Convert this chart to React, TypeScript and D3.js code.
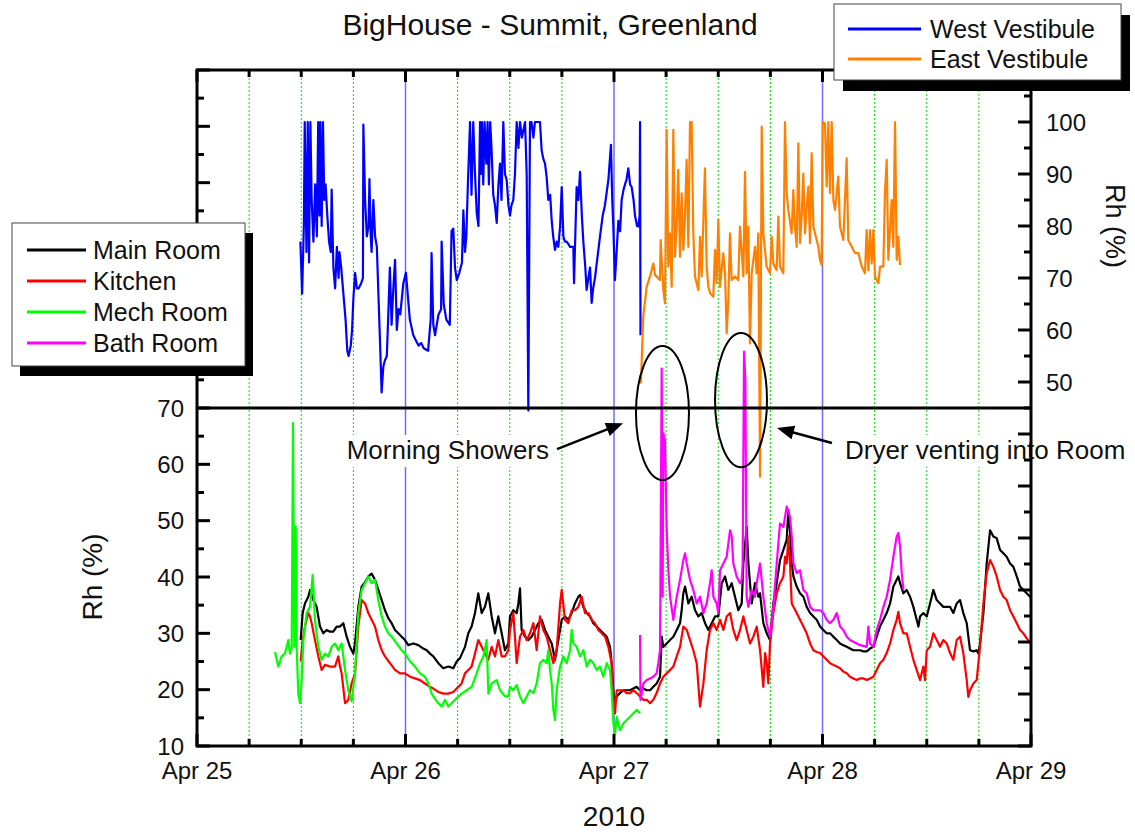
import { line, range, scaleLinear } from "d3";

type Pt = [number, number]; // [hours since Apr 25 00:00, Rh %]

const title = "BigHouse - Summit, Greenland";
const dayLabels = ["Apr 25", "Apr 26", "Apr 27", "Apr 28", "Apr 29"];
const yearLabel = "2010";
const lowerLabels = [10, 20, 30, 40, 50, 60, 70];
const upperLabels = [50, 60, 70, 80, 90, 100];

const westVestibule: Pt[] = [
  [11.9, 77], [12.1, 67], [12.3, 80], [12.4, 100], [12.6, 75], [12.75, 100], [12.9, 73], [13.05, 100],
  [13.2, 85], [13.4, 77], [13.6, 88], [13.8, 78], [13.95, 100], [14.1, 82], [14.2, 100], [14.35, 80],
  [14.5, 100], [14.65, 85], [14.8, 88], [15.0, 82], [15.2, 77], [15.4, 75], [15.5, 87], [15.7, 72],
  [15.9, 68], [16.1, 76], [16.3, 70], [16.4, 75], [16.6, 72], [16.85, 67], [17.1, 62], [17.3, 56],
  [17.45, 55], [17.7, 57], [17.85, 60], [18.0, 66], [18.2, 71], [18.4, 68], [18.6, 68], [18.9, 69],
  [19.1, 70], [19.15, 99.5], [19.35, 85], [19.55, 78], [19.75, 80], [19.85, 89], [20.0, 78], [20.1, 75],
  [20.3, 85], [20.5, 78], [20.7, 76], [20.9, 66], [21.1, 56], [21.25, 48], [21.45, 53], [21.6, 54],
  [21.85, 55], [22.0, 62], [22.2, 72], [22.4, 61], [22.6, 68], [22.8, 73.5], [23.0, 60], [23.2, 64],
  [23.4, 63], [23.75, 69], [24.05, 71], [24.3, 66], [24.5, 62], [24.9, 59], [25.2, 58], [25.5, 57],
  [25.8, 57.5], [26.1, 56.5], [26.6, 56], [26.9, 62], [27.0, 74.8], [27.2, 61], [27.4, 59], [27.8, 63],
  [28.1, 64], [28.16, 77], [28.4, 65], [28.7, 62], [29.1, 61], [29.3, 79], [29.5, 79.5], [29.7, 72],
  [29.9, 69.6], [30.2, 71], [30.5, 73], [30.66, 83], [30.85, 75], [31.0, 78], [31.2, 89], [31.43, 100],
  [31.6, 86], [31.8, 100], [32.0, 90], [32.2, 82.5], [32.4, 80], [32.58, 100], [32.7, 90], [32.8, 100],
  [32.95, 88], [33.1, 100], [33.3, 92], [33.45, 100], [33.6, 88], [33.75, 100], [33.9, 95], [34.1, 86],
  [34.3, 84], [34.5, 80.6], [34.7, 88], [34.88, 92], [35.05, 85], [35.26, 100], [35.45, 90], [35.65, 88.8],
  [35.85, 84], [36.03, 82], [36.2, 84], [36.41, 85], [36.6, 90], [36.8, 100], [37.0, 95], [37.18, 100],
  [37.4, 97], [37.76, 100], [37.95, 90], [38.14, 44.5], [38.33, 100], [38.5, 100], [38.72, 97], [38.9, 100],
  [39.1, 100], [39.3, 100], [39.48, 100], [39.67, 94.6], [39.85, 93], [40.06, 92], [40.25, 89.4], [40.44, 85],
  [40.65, 86], [40.83, 81], [41.0, 78], [41.21, 75.4], [41.4, 77], [41.59, 76], [41.8, 80], [41.98, 87.5],
  [42.17, 78], [42.35, 77], [42.55, 77], [42.75, 76.5], [42.94, 76], [43.32, 76], [43.4, 69], [43.51, 76],
  [43.7, 87.5], [43.9, 85], [44.09, 90.4], [44.3, 82], [44.47, 77], [44.7, 72], [44.85, 67.7], [45.05, 70],
  [45.24, 72], [45.43, 65.2], [45.6, 68], [45.81, 70], [46.1, 74], [46.39, 78], [46.7, 82], [46.96, 84],
  [47.2, 87], [47.35, 88.8], [47.65, 95.6], [47.8, 85], [47.92, 80], [48.11, 69.6], [48.3, 75], [48.5, 81],
  [48.7, 79], [48.88, 85], [49.1, 87], [49.27, 88], [49.45, 89], [49.65, 91.1], [49.85, 88], [50.03, 87.5],
  [50.25, 85], [50.42, 82], [50.65, 80], [50.8, 79.9], [50.95, 82], [51.0, 100], [51.05, 59],
];

const eastVestibule: Pt[] = [
  [51.1, 49.7], [51.37, 62.6], [51.76, 68.3], [52.14, 70.3], [52.53, 72.8], [52.72, 70.6], [53.29, 69.6],
  [53.37, 77.3], [53.68, 67.7], [53.87, 65.1], [54.06, 98.5], [54.25, 72.2], [54.44, 78.6], [54.64, 68.3],
  [54.83, 98.5], [55.02, 74.1], [55.21, 79.9], [55.4, 90.8], [55.6, 74.1], [55.79, 86.3], [55.98, 75.4],
  [56.17, 81.8], [56.36, 92.7], [56.56, 76], [56.75, 100], [56.94, 100], [57.13, 78.6], [57.32, 70.3],
  [57.71, 67.7], [57.9, 77.9], [58.09, 70.3], [58.47, 91.1], [58.67, 72.2], [58.86, 68.3], [59.05, 67.1],
  [59.43, 66.4], [59.63, 75.4], [59.82, 69], [60.01, 81.2], [60.2, 68.3], [60.58, 74.8], [60.78, 70.9],
  [60.97, 59.4], [61.16, 65.8], [61.35, 78.6], [61.54, 69.6], [61.93, 70.3], [62.31, 69.6], [62.5, 79.9],
  [62.89, 70.3], [63.08, 90.4], [63.27, 70.9], [63.46, 79.9], [63.65, 57.4], [63.85, 70.9], [64.04, 73.5],
  [64.23, 76], [64.42, 70.9], [64.61, 78.6], [64.81, 31.8], [65.0, 99.1], [65.19, 78.6], [65.57, 72.2],
  [65.96, 70.9], [66.15, 77.9], [66.34, 72.8], [66.72, 71.5], [66.92, 81.8], [67.11, 72.2], [67.49, 70.9],
  [67.68, 100], [67.88, 86.3], [68.07, 83.1], [68.45, 78.6], [68.64, 86.9], [68.83, 79.9], [69.03, 76],
  [69.22, 95.9], [69.41, 76.7], [69.6, 81.8], [69.79, 90.1], [69.99, 78.6], [70.18, 83.7], [70.37, 87.6],
  [70.56, 76.7], [70.75, 94], [70.95, 79.9], [71.33, 77.3], [71.52, 76], [71.71, 73.5], [71.9, 72.5],
  [72.02, 100], [72.29, 99.7], [72.48, 87.6], [72.67, 100], [72.86, 86.3], [73.06, 100], [73.25, 85],
  [73.44, 83.1], [73.82, 89.5], [74.01, 79.9], [74.4, 77.3], [74.78, 93], [74.97, 77.3], [75.36, 76],
  [75.74, 74.8], [76.13, 74.8], [76.51, 72.2], [76.89, 70.9], [77.08, 79.2], [77.28, 71.5], [77.47, 79.2],
  [77.66, 72.8], [77.85, 79.2], [78.04, 70.3], [78.43, 69], [78.62, 72.2], [79.0, 72.2], [79.2, 86.9],
  [79.39, 92.7], [79.58, 73.5], [79.96, 85], [80.15, 76], [80.35, 100], [80.54, 73.5], [80.73, 77.9],
  [80.92, 72.5],
];

const mainRoom: Pt[] = [
  [11.93, 28.8], [12.16, 33.6], [12.43, 35.3], [12.81, 36.5], [13.01, 37.7], [13.39, 35.9], [13.77, 34.7],
  [14.16, 31.2], [14.54, 30], [14.92, 30.6], [15.31, 30.3], [15.69, 30.3], [16.08, 31.2], [16.46, 31.2],
  [16.84, 31.8], [17.23, 29.4], [17.61, 27.6], [17.99, 26.4], [18.19, 28.2], [18.57, 34.7], [18.95, 38.3],
  [19.34, 39.1], [19.72, 40.1], [20.1, 40.6], [20.49, 39.5], [20.87, 37.7], [21.26, 35.9], [21.64, 34.1],
  [22.02, 32.7], [22.41, 31.8], [22.79, 30.6], [23.17, 30], [23.56, 29.4], [23.94, 28.8], [24.32, 27.9],
  [24.9, 28.2], [25.48, 27.9], [26.05, 27.3], [26.44, 27], [26.82, 26.4], [27.2, 25.9], [27.78, 24.7],
  [28.35, 23.8], [28.93, 24.1], [29.5, 23.8], [29.89, 25], [30.27, 25.6], [30.85, 27.6], [31.23, 30],
  [31.61, 31.2], [32.0, 33.6], [32.38, 37.1], [32.77, 33.6], [33.15, 34.7], [33.53, 37.1], [33.92, 33],
  [34.3, 30], [34.68, 33], [35.07, 30], [35.45, 27], [35.84, 28.2], [36.03, 33], [36.41, 34.1], [36.8, 33.6],
  [36.99, 35.3], [37.18, 38], [37.37, 30.6], [37.76, 29.4], [38.14, 28.8], [38.52, 29.4], [38.91, 30.6],
  [39.29, 31.8], [39.68, 32.4], [40.06, 30.6], [40.44, 29.4], [40.83, 28.2], [41.21, 25.3], [41.59, 28.8],
  [41.98, 32.4], [42.36, 33], [42.74, 32.4], [43.13, 33.6], [43.51, 35.3], [43.9, 36.5], [44.09, 36.8],
  [44.47, 34.7], [44.86, 33.6], [45.24, 33], [45.62, 31.8], [46.01, 31.2], [46.39, 30.6], [46.77, 30],
  [47.16, 29.4], [47.54, 27.6], [47.73, 24.7], [47.93, 19.4], [48.12, 17.6], [48.31, 18.8], [48.69, 19.4],
  [49.08, 19.9], [49.46, 19.9], [49.85, 19.9], [50.23, 20.2], [50.61, 20.5], [51.0, 19.9], [51.38, 20.2],
  [51.76, 19.9], [52.15, 19.9], [52.53, 20.5], [52.91, 21.1], [53.3, 22.3], [53.49, 29.4], [53.68, 27.6],
  [54.07, 28.2], [54.45, 28.8], [54.83, 29.4], [55.22, 30.6], [55.6, 31.8], [55.79, 34.1], [55.98, 37.1],
  [56.18, 38.3], [56.56, 35.3], [56.94, 36.5], [57.33, 34.1], [57.71, 33], [58.09, 33.6], [58.48, 31.8],
  [58.86, 30.6], [59.25, 31.8], [59.63, 33], [60.01, 33], [60.4, 38.9], [60.78, 40.1], [61.16, 37.7],
  [61.55, 38.9], [61.93, 36.5], [62.31, 34.1], [62.7, 35.3], [62.89, 42.4], [63.27, 48.9], [63.47, 42.4],
  [63.85, 35.3], [64.23, 38.9], [64.62, 36.5], [64.81, 37.1], [65.19, 31.8], [65.58, 30], [65.96, 28.8],
  [66.34, 35.3], [66.73, 38.9], [67.11, 43], [67.5, 44.8], [67.88, 46.6], [68.07, 51.9], [68.26, 48.3],
  [68.46, 42.4], [68.65, 40.1], [69.03, 38.3], [69.41, 37.1], [69.8, 36.5], [70.18, 34.7], [70.57, 33.6],
  [70.95, 33], [71.33, 32.4], [71.72, 31.2], [72.1, 30.6], [72.48, 30], [72.87, 30], [73.25, 29.4],
  [73.64, 28.8], [74.02, 28.2], [74.4, 27.9], [74.79, 27.6], [75.17, 27.3], [75.55, 27], [76.32, 27],
  [76.71, 26.8], [77.09, 26.8], [77.47, 27.3], [77.86, 27.6], [78.24, 29.4], [78.62, 31.2], [79.01, 32.4],
  [79.39, 33.6], [79.78, 35.3], [80.16, 38.3], [80.54, 39.5], [80.73, 40.1], [80.93, 38.9], [81.31, 37.1],
  [81.69, 37.7], [82.08, 36.5], [82.46, 34.7], [82.84, 32.4], [83.04, 31.2], [83.23, 33], [83.61, 33.6],
  [84.0, 33], [84.38, 35.3], [84.76, 37.7], [85.15, 35.9], [85.53, 35.3], [85.91, 34.7], [86.3, 34.7],
  [86.68, 34.7], [87.06, 33.6], [87.45, 35.3], [87.83, 35.9], [88.21, 33.6], [88.6, 31.8], [88.98, 27],
  [89.37, 26.8], [89.75, 27], [89.94, 26.4], [90.13, 28.2], [90.52, 33.6], [90.9, 42.4], [91.29, 48.3],
  [91.67, 47.2], [92.05, 46.9], [92.44, 44.8], [92.82, 44.2], [93.2, 43.6], [93.59, 42.4], [93.97, 41.8],
  [94.36, 40.1], [94.74, 38.3], [95.12, 37.7], [95.51, 37.1], [95.89, 36.5], [96.0, 36.2],
];

const kitchen: Pt[] = [
  [11.93, 25], [12.16, 28.8], [12.43, 31.2], [12.81, 33.6], [13.01, 33], [13.2, 31.8], [13.58, 28.8],
  [13.97, 25.9], [14.35, 23.5], [14.73, 24.4], [15.31, 24.1], [15.88, 24.1], [16.27, 25.9], [16.46, 24.1],
  [16.65, 22.9], [17.04, 17.6], [17.42, 18.2], [17.8, 21.1], [18.19, 22.9], [18.57, 31.2], [18.95, 35.9],
  [19.34, 35.3], [19.72, 33.6], [20.1, 32.4], [20.49, 31.2], [20.87, 28.8], [21.26, 27], [21.64, 25.9],
  [22.21, 24.7], [22.79, 23.5], [23.37, 22.9], [23.94, 22.9], [24.52, 22.3], [25.09, 22], [25.67, 21.7],
  [26.24, 21.1], [26.82, 20.5], [27.2, 20.2], [27.78, 19.6], [28.35, 19.3], [28.93, 19.3], [29.5, 19.6],
  [30.08, 20.5], [30.46, 21.1], [30.85, 22.9], [31.23, 23.5], [31.61, 24.1], [32.0, 26.4], [32.38, 28.8],
  [32.77, 27.6], [33.15, 26.4], [33.53, 25.3], [33.92, 27.6], [34.3, 25.9], [34.68, 28.8], [35.07, 25.9],
  [35.45, 25.9], [35.84, 27], [36.03, 30.6], [36.41, 33.6], [36.8, 24.7], [37.18, 29.4], [37.56, 30.6],
  [37.95, 28.8], [38.33, 30], [38.72, 31.8], [39.1, 27], [39.48, 33], [39.87, 30.6], [40.25, 29.4],
  [40.63, 27], [41.02, 24.7], [41.4, 27], [41.79, 35.3], [41.98, 37.7], [42.36, 32.4], [42.74, 31.8],
  [43.13, 34.1], [43.51, 34.1], [43.9, 34.7], [44.28, 36.5], [44.66, 33.6], [45.05, 33.6], [45.43, 32.4],
  [45.81, 31.8], [46.2, 30.6], [46.58, 30], [46.97, 29.4], [47.35, 27.6], [47.73, 24.7], [47.93, 18.8],
  [48.12, 15.8], [48.31, 19.9], [48.69, 19.9], [49.08, 19.9], [49.46, 19.4], [49.85, 19.4], [50.23, 19.9],
  [50.61, 19.4], [51.0, 18.8], [51.38, 18.2], [51.76, 18.2], [52.15, 17.6], [52.53, 18.2], [52.91, 19.4],
  [53.3, 21.1], [53.68, 22.3], [54.07, 22.9], [54.45, 23.5], [54.83, 24.1], [55.22, 25.9], [55.6, 27.6],
  [55.98, 31.2], [56.37, 30.6], [56.75, 28.8], [57.13, 27], [57.52, 24.7], [57.9, 17], [58.29, 21.1],
  [58.67, 27], [59.05, 30.6], [59.44, 31.8], [59.82, 30.6], [60.21, 32.4], [60.59, 30.6], [60.97, 33],
  [61.36, 33.6], [61.74, 30.6], [62.12, 28.8], [62.51, 30.6], [62.89, 33], [63.27, 30.6], [63.66, 28.2],
  [64.04, 29.4], [64.43, 31.2], [64.81, 27], [65.19, 20.5], [65.39, 26.5], [65.58, 24.7], [65.77, 21.1],
  [65.96, 28.2], [66.34, 33.6], [66.73, 37.1], [67.11, 38.9], [67.5, 40.1], [67.69, 43.6], [67.88, 42.4],
  [68.07, 47.2], [68.26, 42.4], [68.46, 35.3], [68.65, 34.7], [69.03, 33.6], [69.41, 32.4], [69.8, 31.2],
  [70.18, 30], [70.57, 28.2], [70.95, 27], [71.33, 26.7], [71.72, 26.5], [72.1, 25.9], [72.48, 25.3],
  [72.87, 24.7], [73.25, 24.4], [73.64, 24.1], [74.02, 23.8], [74.4, 23.2], [74.79, 22.9], [75.17, 22.3],
  [75.55, 22], [75.94, 21.7], [76.32, 22], [76.71, 22], [77.09, 21.7], [77.47, 22], [77.86, 22.3],
  [78.24, 23.5], [78.62, 24.7], [79.01, 25.3], [79.39, 26.5], [79.78, 28.2], [80.16, 30.6], [80.54, 32.4],
  [80.73, 33.8], [80.93, 31.8], [81.31, 30], [81.69, 30], [82.08, 27.6], [82.46, 25.3], [82.84, 23.5],
  [83.23, 21.7], [83.61, 24.1], [83.8, 21.7], [84.0, 27], [84.38, 27.6], [84.76, 30], [85.15, 28.8],
  [85.53, 27.6], [85.91, 28.8], [86.3, 28.2], [86.68, 26.5], [87.06, 25.3], [87.45, 28.8], [87.83, 29.4],
  [88.21, 26.5], [88.6, 21.7], [88.79, 18.7], [88.98, 19.9], [89.37, 21.1], [89.75, 21.7], [90.13, 27.6],
  [90.52, 35.3], [90.9, 40.7], [91.29, 43], [91.67, 41.8], [92.05, 40.1], [92.44, 37.7], [92.82, 36.5],
  [93.2, 35.9], [93.59, 34.1], [93.97, 33], [94.36, 31.8], [94.74, 30.6], [95.12, 30], [95.51, 29.1],
  [96.0, 28.2],
];

const mechRoom: Pt[] = [
  [8.98, 26.7], [9.36, 24.1], [9.74, 25.9], [10.13, 26.4], [10.51, 28.8], [10.7, 26.4], [10.9, 27.3],
  [11.05, 67.3], [11.2, 27.6], [11.36, 49], [11.47, 27.6], [11.66, 19.3], [11.85, 17.6], [12.05, 21.7],
  [12.24, 28.8], [12.62, 33.6], [13.01, 34.7], [13.31, 40.4], [13.58, 32.4], [13.97, 27.6], [14.35, 25.3],
  [14.73, 26.4], [15.12, 25.9], [15.5, 27.6], [15.88, 28.2], [16.27, 27], [16.65, 28.2], [17.04, 23.5],
  [17.42, 19.9], [17.8, 17.9], [18.19, 22.9], [18.57, 33.6], [18.95, 37.7], [19.34, 38.9], [19.72, 40.1],
  [20.1, 38.9], [20.49, 39.5], [20.87, 35.9], [21.26, 33], [21.64, 31.2], [22.02, 30], [22.41, 29.4],
  [22.98, 28.2], [23.56, 27], [23.94, 26.4], [24.52, 25], [25.09, 24.1], [25.67, 22.9], [26.24, 22.3],
  [26.63, 21.1], [27.01, 19.3], [27.59, 17.9], [28.16, 17], [28.55, 18.2], [28.93, 17], [29.31, 17.6],
  [29.89, 18.5], [30.47, 19.3], [31.04, 19.9], [31.62, 20.5], [32.19, 22.9], [32.58, 24.7], [32.96, 25.9],
  [33.34, 28.8], [33.54, 19.3], [33.92, 21.1], [34.49, 21.7], [34.88, 19.9], [35.45, 18.8], [35.84, 18.8],
  [36.03, 20.5], [36.41, 19.9], [36.8, 20.8], [37.18, 18.8], [37.56, 17.6], [37.95, 18.8], [38.33, 19.9],
  [38.72, 19.4], [39.1, 21.1], [39.48, 24.7], [39.87, 25.3], [40.25, 24.7], [40.44, 27], [40.63, 23.5],
  [40.83, 21.1], [41.02, 16.4], [41.21, 14.6], [41.4, 19.9], [41.79, 24.1], [42.17, 25.9], [42.55, 24.7],
  [42.94, 27], [43.13, 30.6], [43.32, 28.2], [43.7, 27.6], [44.09, 25.9], [44.47, 27], [44.86, 24.1],
  [45.24, 25.3], [45.62, 24.7], [46.01, 23.5], [46.39, 24.1], [46.77, 22.3], [47.16, 24.7], [47.54, 23.5],
  [47.73, 19.9], [47.93, 14], [48.12, 12.2], [48.31, 15.2], [48.69, 12.8], [49.08, 14], [49.46, 14.6],
  [49.85, 15.2], [50.23, 15.8], [50.61, 16.4], [51.0, 15.8],
];

const bathRoom: Pt[] = [
  [51.0, 29.7], [51.05, 18.2], [51.38, 21.1], [51.76, 21.7], [52.15, 22], [52.53, 22.3], [52.91, 22.9],
  [53.1, 24.7], [53.3, 27], [53.49, 77], [53.6, 36.5], [53.68, 65.5], [53.87, 64.3], [54.07, 48.3],
  [54.26, 41.2], [54.45, 36.5], [54.83, 32.4], [55.22, 36.5], [55.6, 39.5], [55.98, 43], [56.18, 44.2],
  [56.37, 42.4], [56.75, 39.5], [57.13, 37.7], [57.52, 35.3], [57.9, 36.5], [58.29, 33.6], [58.67, 35.3],
  [59.05, 38.9], [59.25, 41.2], [59.44, 36.5], [59.82, 35.3], [60.01, 33.6], [60.21, 41.2], [60.59, 42.4],
  [60.97, 43.6], [61.36, 48.3], [61.55, 47.2], [61.74, 42.4], [62.12, 40.1], [62.51, 38.9], [62.7, 39.5],
  [62.81, 42.4], [62.97, 80], [63.12, 75], [63.27, 36.5], [63.47, 34.7], [63.85, 37.7], [64.23, 36.5],
  [64.43, 38.9], [64.81, 42.4], [65.19, 36.5], [65.58, 31.8], [65.96, 29.4], [66.34, 34.7], [66.73, 42.4],
  [67.11, 49.5], [67.5, 48.9], [67.88, 52.5], [68.26, 50.7], [68.46, 47.2], [68.65, 42.4], [69.03, 40.7],
  [69.41, 41.2], [69.8, 37.7], [70.18, 37.1], [70.57, 34.7], [70.95, 34.1], [71.72, 34.1], [72.1, 33.6],
  [72.48, 32.4], [72.87, 31.8], [73.25, 32.4], [73.64, 33.6], [74.02, 31.2], [74.4, 30.6], [74.79, 29.4],
  [75.17, 28.8], [75.94, 28.2], [76.32, 27.9], [77.09, 27.6], [77.28, 31.2], [77.47, 28.2], [77.86, 27.6],
  [78.24, 30.6], [78.62, 32.4], [79.01, 34.7], [79.39, 36.5], [79.78, 39.5], [80.16, 43.6], [80.54, 47.2],
  [80.73, 47.8], [80.93, 45.4], [81.12, 40.7], [81.31, 37.7],
];

const lowerSeries = [
  { name: "Main Room", color: "#000000", data: mainRoom },
  { name: "Kitchen", color: "#ff0000", data: kitchen },
  { name: "Mech Room", color: "#00ff00", data: mechRoom },
  { name: "Bath Room", color: "#ff00ff", data: bathRoom },
];
const upperSeries = [
  { name: "West Vestibule", color: "#0000ff", data: westVestibule },
  { name: "East Vestibule", color: "#ff8000", data: eastVestibule },
];

// callouts, in data units of the lower panel (hours, Rh %)
const callouts = [
  { label: "Morning Showers", cx: 53.58, cy: 69.1, rx: 3.05, ry: 11.9, tail: [41.44, 62.7], tip: [49.04, 67.3], anchor: "end" },
  { label: "Dryer venting into Room", cx: 62.62, cy: 71.4, rx: 2.99, ry: 11.9, tail: [73.09, 63.8], tip: [66.76, 66.45], anchor: "start" },
];

const FONT = "'Liberation Sans', Arial, Helvetica, sans-serif";

export default function App() {
  const width = 1135;
  const height = 834;
  const left = 197, right = 1031, top = 70, bottom = 746;

  const x = scaleLinear().domain([0, 96]).range([left, right]);
  const yLow = scaleLinear().domain([10, 130]).range([bottom, top]);
  const yHigh = scaleLinear().domain([-20, 110]).range([bottom, top]);
  const lowLine = line<Pt>().x((d) => x(d[0])).y((d) => yLow(d[1]));
  const highLine = line<Pt>().x((d) => x(d[0])).y((d) => yHigh(d[1]));
  const splitY = yLow(70);

  const sixHours = range(0, 97, 6);
  const leftTicks = range(10, 131, 5);
  const rightTicks = range(-20, 111, 5);

  const arrowHead = (tail: number[], tip: number[]) => {
    const x0 = x(tail[0]), y0 = yLow(tail[1]);
    const x1 = x(tip[0]), y1 = yLow(tip[1]);
    const a = Math.atan2(y1 - y0, x1 - x0);
    const len = 17, half = 7;
    const bx = x1 - len * Math.cos(a), by = y1 - len * Math.sin(a);
    const px = -Math.sin(a) * half, py = Math.cos(a) * half;
    return {
      shaft: { x1: x0, y1: y0, x2: bx + 2 * Math.cos(a), y2: by + 2 * Math.sin(a) },
      head: `${x1},${y1} ${bx + px},${by + py} ${bx - px},${by - py}`,
    };
  };

  return (
    <svg
      width={width}
      height={height}
      style={{ position: "absolute", left: 0, top: 0, background: "#fff" }}
      fontFamily={FONT}
    >
      <rect width={width} height={height} fill="#fff" />

      {/* grid */}
      {sixHours.slice(1, -1).map((h) =>
        h % 24 === 0 ? (
          <line key={`g${h}`} x1={x(h)} x2={x(h)} y1={top} y2={bottom} stroke="#6b6bff" strokeWidth={1.5} />
        ) : (
          <line key={`g${h}`} x1={x(h)} x2={x(h)} y1={top} y2={bottom} stroke="#00e000" strokeWidth={1} strokeDasharray="2,2" />
        )
      )}

      {/* annotation text backgrounds */}
      <rect x={343} y={435} width={212} height={32} fill="#fff" />
      <rect x={840} y={435} width={290} height={32} fill="#fff" />

      {/* upper panel series */}
      {upperSeries.map((s) => (
        <path key={s.name} d={highLine(s.data) ?? ""} fill="none" stroke={s.color} strokeWidth={2.2} strokeLinejoin="round" />
      ))}
      {/* lower panel series */}
      {lowerSeries.map((s) => (
        <path key={s.name} d={lowLine(s.data) ?? ""} fill="none" stroke={s.color} strokeWidth={2.2} strokeLinejoin="round" />
      ))}

      {/* panel separator */}
      <line x1={left} x2={right} y1={splitY} y2={splitY} stroke="#000" strokeWidth={3} />

      {/* callouts */}
      {callouts.map((c) => {
        const ar = arrowHead(c.tail, c.tip);
        const cx = x(c.cx), cy = yLow(c.cy);
        const rx = x(c.cx + c.rx) - cx, ry = cy - yLow(c.cy + c.ry);
        const tx = c.anchor === "end" ? ar.shaft.x1 - 8 : ar.shaft.x1 + 13;
        return (
          <g key={c.label}>
            <ellipse cx={cx} cy={cy} rx={rx} ry={ry} fill="none" stroke="#000" strokeWidth={2} />
            <line {...ar.shaft} stroke="#000" strokeWidth={2.5} />
            <polygon points={ar.head} fill="#000" />
            <text x={tx} y={459} fontSize={26} textAnchor={c.anchor} fill="#111">
              {c.label}
            </text>
          </g>
        );
      })}

      {/* frame */}
      <rect x={left} y={top} width={right - left} height={bottom - top} fill="none" stroke="#000" strokeWidth={3} />

      {/* x ticks top and bottom */}
      {sixHours.map((h) => {
        const len = h % 24 === 0 ? 12 : 7;
        return (
          <g key={`xt${h}`} stroke="#000" strokeWidth={3}>
            <line x1={x(h)} x2={x(h)} y1={bottom} y2={bottom - len} />
            <line x1={x(h)} x2={x(h)} y1={top} y2={top + len} />
          </g>
        );
      })}

      {/* left ticks (lower layer scale) */}
      {leftTicks.map((v) => (
        <line
          key={`lt${v}`}
          x1={left}
          x2={left + (v % 10 === 0 ? 13 : 7)}
          y1={yLow(v)}
          y2={yLow(v)}
          stroke="#000"
          strokeWidth={3}
        />
      ))}
      {/* right ticks (upper layer scale) */}
      {rightTicks.map((v) => (
        <line
          key={`rt${v}`}
          x1={right}
          x2={right - (v % 10 === 0 ? 13 : 7)}
          y1={yHigh(v)}
          y2={yHigh(v)}
          stroke="#000"
          strokeWidth={3}
        />
      ))}

      {/* tick labels */}
      {lowerLabels.map((v) => (
        <text key={`ll${v}`} x={left - 13} y={yLow(v)} dy="0.36em" fontSize={24} textAnchor="end" fill="#111">
          {v}
        </text>
      ))}
      {upperLabels.map((v) => (
        <text key={`ul${v}`} x={right + 15} y={yHigh(v)} dy="0.36em" fontSize={24} textAnchor="start" fill="#111">
          {v}
        </text>
      ))}
      {dayLabels.map((d, i) => (
        <text key={d} x={x(i * 24)} y={779} fontSize={24} textAnchor="middle" fill="#111">
          {d}
        </text>
      ))}

      {/* axis titles */}
      <text x={x(48)} y={826} fontSize={28} textAnchor="middle" fill="#111">
        {yearLabel}
      </text>
      <text transform={`translate(102,${yLow(40)}) rotate(-90)`} fontSize={28} textAnchor="middle" fill="#111">
        Rh (%)
      </text>
      <text transform={`translate(1106,${yHigh(80)}) rotate(90)`} fontSize={27} textAnchor="middle" fill="#111">
        Rh (%)
      </text>

      {/* title */}
      <text x={550} y={35} fontSize={30} textAnchor="middle" fill="#111">
        {title}
      </text>

      {/* lower legend */}
      <g>
        <rect x={20} y={233} width={233} height={143} fill="#000" />
        <rect x={12} y={223} width={233} height={143} fill="#fff" stroke="#444" strokeWidth={1} />
        {lowerSeries.map((s, i) => (
          <g key={s.name}>
            <line x1={27} x2={86} y1={250 + i * 31} y2={250 + i * 31} stroke={s.color} strokeWidth={3} />
            <text x={93} y={250 + i * 31} dy="0.36em" fontSize={25} fill="#111">
              {s.name}
            </text>
          </g>
        ))}
      </g>

      {/* upper legend */}
      <g>
        <rect x={843} y={15} width={287} height={76} fill="#000" />
        <rect x={834} y={4} width={287} height={76} fill="#fff" stroke="#444" strokeWidth={1} />
        {upperSeries.map((s, i) => (
          <g key={s.name}>
            <line x1={848} x2={921} y1={29 + i * 30} y2={29 + i * 30} stroke={s.color} strokeWidth={3} />
            <text x={930} y={29 + i * 30} dy="0.36em" fontSize={25} fill="#111">
              {s.name}
            </text>
          </g>
        ))}
      </g>
    </svg>
  );
}
